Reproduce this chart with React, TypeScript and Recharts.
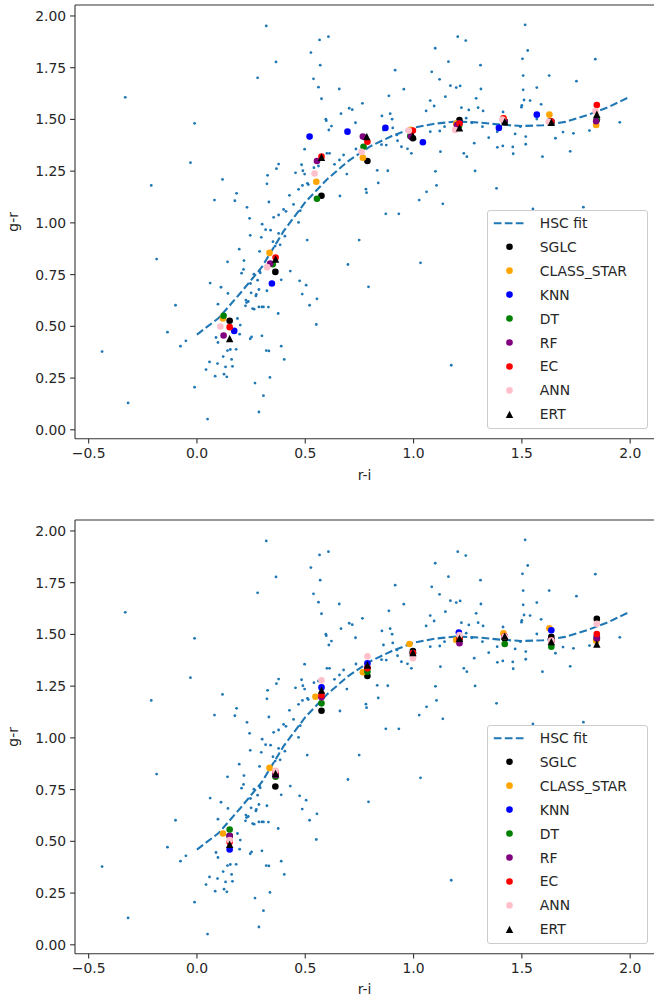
import { ReferenceLine, Scatter, ScatterChart, XAxis, YAxis, Label } from "recharts";

// background sample (r-i, g-r), same in both panels
const SAMPLE: number[][] = [
  [-0.438, 0.378], [-0.318, 0.13], [-0.331, 1.607], [-0.211, 1.181], [-0.186, 0.825], [-0.136, 0.472],
  [-0.099, 0.602], [-0.076, 0.404], [-0.051, 0.43], [-0.03, 1.291], [-0.011, 1.481], [-0.011, 0.206],
  [0.049, 0.052], [0.042, 0.291], [0.058, 0.328], [0.084, 0.259], [0.095, 0.32], [0.088, 0.446],
  [0.097, 0.422], [0.097, 0.607], [0.061, 0.709], [0.111, 0.689], [0.121, 0.354], [0.125, 0.269],
  [0.138, 0.256], [0.132, 0.304], [0.141, 0.383], [0.143, 0.659], [0.141, 0.812], [0.154, 0.388],
  [0.16, 0.34], [0.164, 0.307], [0.181, 0.389], [0.187, 0.538], [0.197, 0.462], [0.2, 0.506],
  [0.195, 0.873], [0.206, 0.757], [0.217, 0.818], [0.215, 0.775], [0.229, 0.615], [0.224, 0.599],
  [0.226, 0.627], [0.237, 0.62], [0.247, 0.707], [0.25, 0.662], [0.246, 0.94], [0.243, 1.022],
  [0.231, 1.075], [0.252, 0.449], [0.246, 0.44], [0.257, 0.586], [0.264, 0.583], [0.268, 0.226],
  [0.274, 0.654], [0.263, 0.752], [0.272, 0.647], [0.28, 0.723], [0.286, 0.678], [0.289, 0.768],
  [0.289, 0.862], [0.286, 0.594], [0.286, 0.086], [0.292, 0.759], [0.297, 0.93], [0.3, 0.454],
  [0.3, 0.594], [0.307, 0.594], [0.307, 0.165], [0.301, 0.994], [0.317, 0.967], [0.32, 0.383],
  [0.323, 0.672], [0.33, 0.593], [0.332, 0.381], [0.337, 0.253], [0.34, 0.965], [0.351, 0.909],
  [0.354, 1.027], [0.361, 0.888], [0.375, 0.562], [0.377, 0.949], [0.377, 1.038], [0.384, 0.894],
  [0.389, 0.725], [0.389, 0.404], [0.403, 0.34], [0.4, 1.065], [0.411, 1.056], [0.406, 0.936],
  [0.431, 0.767], [0.427, 1.133], [0.446, 1.089], [0.469, 1.002], [0.477, 1.059], [0.474, 0.72],
  [0.486, 0.656], [0.504, 0.699], [0.509, 0.917], [0.52, 0.602], [0.551, 0.509], [0.554, 0.633],
  [0.081, 1.11], [0.118, 1.21], [0.183, 1.143], [0.175, 1.107], [0.28, 1.701], [0.32, 1.952],
  [0.365, 1.778], [0.323, 1.189], [0.326, 1.23], [0.332, 1.101], [0.367, 1.262], [0.377, 1.284],
  [0.455, 1.242], [0.483, 1.281], [0.489, 1.252], [0.497, 1.236], [0.497, 1.356], [0.487, 1.181],
  [0.469, 1.162], [0.51, 1.191], [0.514, 1.185], [0.526, 1.823], [0.538, 1.696], [0.54, 1.267],
  [0.561, 1.275], [0.561, 1.656], [0.566, 1.884], [0.569, 1.762], [0.575, 1.6], [0.597, 1.494],
  [0.609, 1.449], [0.607, 1.9], [0.612, 1.336], [0.6, 1.336], [0.595, 1.501], [0.621, 1.468],
  [0.635, 1.283], [0.658, 1.304], [0.677, 1.328], [0.657, 1.647], [0.665, 1.528], [0.66, 1.13],
  [0.692, 1.236], [0.697, 0.799], [0.703, 1.554], [0.717, 1.547], [0.732, 1.484], [0.734, 1.357],
  [0.749, 0.917], [0.764, 1.578], [0.78, 1.163], [0.783, 1.146], [0.792, 0.691], [0.832, 1.254],
  [0.837, 1.193], [0.852, 1.378], [0.854, 1.517], [0.861, 1.449], [0.872, 1.044], [0.874, 1.376],
  [0.881, 1.252], [0.886, 1.614], [0.892, 1.528], [0.901, 1.501], [0.904, 1.459], [0.915, 1.738],
  [0.923, 1.425], [0.926, 1.397], [0.932, 1.044], [0.944, 1.368], [0.955, 1.646], [0.972, 1.358],
  [0.99, 1.336], [1.026, 1.11], [1.032, 0.807], [1.058, 1.541], [1.06, 1.15], [1.077, 1.591],
  [1.077, 1.441], [1.084, 1.73], [1.095, 1.565], [1.101, 1.249], [1.1, 1.844], [1.106, 1.181],
  [1.12, 1.694], [1.121, 1.444], [1.124, 1.344], [1.135, 1.092], [1.143, 1.465], [1.147, 1.61],
  [1.161, 1.779], [1.17, 1.663], [1.174, 0.312], [1.197, 1.654], [1.204, 1.9], [1.215, 1.662],
  [1.221, 1.557], [1.232, 1.336], [1.241, 1.881], [1.243, 1.506], [1.246, 1.32], [1.255, 1.546],
  [1.269, 1.484], [1.28, 1.385], [1.284, 1.251], [1.289, 1.602], [1.298, 1.557], [1.309, 1.762],
  [1.311, 1.647], [1.318, 1.465], [1.321, 1.541], [1.347, 1.412], [1.383, 1.167], [1.386, 1.441],
  [1.387, 1.365], [1.412, 1.372], [1.413, 1.536], [1.458, 1.367], [1.46, 1.334], [1.469, 1.43],
  [1.493, 1.465], [1.498, 1.559], [1.5, 1.568], [1.503, 1.793], [1.506, 1.712], [1.506, 1.643],
  [1.51, 1.594], [1.515, 1.957], [1.518, 1.417], [1.518, 1.38], [1.527, 1.833], [1.538, 1.591],
  [1.551, 1.067], [1.569, 1.654], [1.569, 1.502], [1.589, 1.573], [1.595, 1.32], [1.626, 1.712],
  [1.655, 1.409], [1.69, 1.439], [1.723, 1.346], [1.738, 1.433], [1.752, 1.685], [1.784, 1.076],
  [1.812, 1.446], [1.839, 1.791], [1.952, 1.486],
];

// HSC fit curve
const FIT_X = [0, 0.1, 0.2, 0.3, 0.4, 0.5, 0.6, 0.7, 0.8, 0.9, 1.0, 1.1, 1.2, 1.3, 1.4, 1.5, 1.6, 1.7, 1.8, 1.9, 1.99];
const FIT_Y = [0.46, 0.54, 0.66, 0.787, 0.96, 1.1, 1.21, 1.3, 1.37, 1.42, 1.46, 1.48, 1.49, 1.485, 1.475, 1.468, 1.472, 1.488, 1.52, 1.56, 1.605];

// top panel classifier means
const TOP_SGLC = [[0.151, 0.527], [0.362, 0.763], [0.575, 1.131], [0.787, 1.299], [0.997, 1.409], [1.212, 1.497], [1.421, 1.49], [1.636, 1.49], [1.846, 1.5]];
const TOP_CLASS_STAR = [[0.12, 0.538], [0.335, 0.855], [0.551, 1.199], [0.766, 1.315], [0.985, 1.45], [1.197, 1.48], [1.415, 1.505], [1.627, 1.523], [1.843, 1.473]];
const TOP_KNN = [[0.172, 0.478], [0.346, 0.707], [0.52, 1.417], [0.695, 1.441], [0.87, 1.459], [1.043, 1.39], [1.212, 1.481], [1.394, 1.459], [1.569, 1.523]];
const TOP_DT = [[0.123, 0.551], [0.35, 0.8], [0.554, 1.117], [0.769, 1.368], [0.985, 1.42], [1.21, 1.47], [1.42, 1.49], [1.63, 1.49], [1.846, 1.5]];
const TOP_RF = [[0.123, 0.456], [0.338, 0.804], [0.554, 1.299], [0.766, 1.417], [0.988, 1.417], [1.2, 1.473], [1.42, 1.49], [1.63, 1.49], [1.843, 1.491]];
const TOP_EC = [[0.151, 0.496], [0.363, 0.833], [0.575, 1.32], [0.787, 1.392], [0.997, 1.446], [1.212, 1.48], [1.415, 1.506], [1.636, 1.49], [1.846, 1.57]];
const TOP_ANN = [[0.108, 0.499], [0.324, 0.786], [0.543, 1.239], [0.76, 1.343], [0.978, 1.446], [1.192, 1.449], [1.41, 1.5], [1.624, 1.489], [1.84, 1.54]];
const TOP_ERT = [[0.151, 0.441], [0.363, 0.825], [0.575, 1.317], [0.784, 1.417], [0.997, 1.42], [1.212, 1.46], [1.421, 1.489], [1.636, 1.486], [1.846, 1.525]];

// bottom panel classifier means
const BOT_SGLC = [[0.151, 0.527], [0.362, 0.765], [0.575, 1.131], [0.787, 1.299], [0.997, 1.42], [1.212, 1.48], [1.421, 1.48], [1.636, 1.489], [1.846, 1.575]];
const BOT_CLASS_STAR = [[0.12, 0.538], [0.335, 0.855], [0.547, 1.199], [0.766, 1.317], [0.981, 1.454], [1.197, 1.473], [1.415, 1.505], [1.627, 1.53], [1.843, 1.47]];
const BOT_KNN = [[0.151, 0.461], [0.363, 0.82], [0.575, 1.244], [0.787, 1.36], [0.997, 1.41], [1.209, 1.509], [1.421, 1.49], [1.636, 1.52], [1.846, 1.49]];
const BOT_DT = [[0.151, 0.557], [0.363, 0.812], [0.575, 1.167], [0.787, 1.32], [0.997, 1.41], [1.212, 1.48], [1.421, 1.454], [1.636, 1.441], [1.846, 1.48]];
const BOT_RF = [[0.151, 0.526], [0.363, 0.82], [0.575, 1.196], [0.787, 1.34], [0.997, 1.41], [1.212, 1.457], [1.421, 1.49], [1.636, 1.47], [1.846, 1.48]];
const BOT_EC = [[0.151, 0.497], [0.363, 0.835], [0.575, 1.207], [0.787, 1.336], [0.997, 1.41], [1.212, 1.48], [1.421, 1.49], [1.636, 1.47], [1.846, 1.502]];
const BOT_ANN = [[0.151, 0.506], [0.363, 0.841], [0.575, 1.278], [0.787, 1.394], [0.997, 1.385], [1.212, 1.497], [1.421, 1.49], [1.636, 1.47], [1.846, 1.551]];
const BOT_ERT = [[0.151, 0.486], [0.363, 0.828], [0.575, 1.231], [0.787, 1.352], [0.997, 1.412], [1.212, 1.481], [1.421, 1.492], [1.636, 1.465], [1.846, 1.454]];

const MODELS = ["SGLC", "CLASS_STAR", "KNN", "DT", "RF", "EC", "ANN", "ERT"];
const COLORS = ["black", "orange", "blue", "green", "purple", "red", "pink", "black"];
const X_TICKS = [-0.5, 0, 0.5, 1, 1.5, 2];
const Y_TICKS = [0, 0.25, 0.5, 0.75, 1, 1.25, 1.5, 1.75, 2];

const TOP = [TOP_SGLC, TOP_CLASS_STAR, TOP_KNN, TOP_DT, TOP_RF, TOP_EC, TOP_ANN, TOP_ERT];
const BOT = [BOT_SGLC, BOT_CLASS_STAR, BOT_KNN, BOT_DT, BOT_RF, BOT_EC, BOT_ANN, BOT_ERT];

const FONT = "'DejaVu Sans', sans-serif";
const BLUE = "#1f77b4";
const X_DOMAIN: [number, number] = [-0.563, 2.11];
const Y_DOMAIN: [number, number] = [-0.043, 2.053];

const toPts = (rows: number[][]) => rows.map(([x, y]) => ({ x, y }));
const sample = toPts(SAMPLE);
const fit = FIT_X.map((x, i) => ({ x, y: FIT_Y[i] }));
const minus = (s: string) => s.replace("-", "\u2212");

const dot = (fill: string, r: number) => (p: any) => <circle cx={p.cx} cy={p.cy} r={r} fill={fill} />;
const tri = (p: any) => {
  const s = 3.7;
  return <polygon points={`${p.cx},${p.cy - s} ${p.cx - s},${p.cy + s} ${p.cx + s},${p.cy + s}`} fill="black" />;
};

function LegendBox() {
  const row = (i: number) => 36.7 + i * 23.95;
  return (
    <div
      style={{
        position: "absolute", left: 486.5, top: 210, width: 161, height: 219,
        border: "1px solid #cccccc", borderRadius: 3, background: "rgba(255,255,255,0.8)",
        boxSizing: "border-box", fontFamily: FONT, fontSize: 13.9, color: "#262626",
      }}
    >
      <svg width={161} height={219} style={{ position: "absolute", left: -1, top: -1 }}>
        <line x1={6.8} x2={38.5} y1={13.3} y2={13.3} stroke={BLUE} strokeWidth={2.1} strokeDasharray="7.7 3.3" />
        <text x={52.8} y={13.3} dominantBaseline="central" fontSize={13.9} fill="#262626" fontFamily={FONT}>HSC fit</text>
        {MODELS.map((m, i) => (
          <g key={m}>
            {m === "ERT" ? (
              tri({ cx: 22.5, cy: row(i) })
            ) : (
              <circle cx={22.5} cy={row(i)} r={3.3} fill={COLORS[i]} />
            )}
            <text x={52.8} y={row(i)} dominantBaseline="central" fontSize={13.9} fill="#262626" fontFamily={FONT}>{m}</text>
          </g>
        ))}
      </svg>
    </div>
  );
}

function Panel({ groups, height, labelOffset }: { groups: number[][][]; height: number; labelOffset: number }) {
  const axisH = height - 5 - 433.7;
  return (
    <div style={{ position: "relative", width: 654, height }}>
      <ScatterChart width={654} height={height} margin={{ top: 5, right: 0, bottom: 0, left: 0 }}>
        <XAxis
          type="number" dataKey="x" domain={X_DOMAIN} ticks={X_TICKS} allowDataOverflow
          height={axisH} tickSize={4.9} stroke="#333" strokeWidth={1.1}
          tick={{ fontSize: 13.9, fill: "#262626", fontFamily: FONT, dy: 3 }}
          tickFormatter={(v: number) => minus(v.toFixed(1))}
        >
          <Label value="r-i" position="insideTop" offset={labelOffset} style={{ fontSize: 13.9, fill: "#262626", fontFamily: FONT }} />
        </XAxis>
        <YAxis
          type="number" dataKey="y" domain={Y_DOMAIN} ticks={Y_TICKS} allowDataOverflow
          width={75} tickSize={4.9} stroke="#333" strokeWidth={1.1}
          tick={{ fontSize: 13.9, fill: "#262626", fontFamily: FONT, dx: -2 }}
          tickFormatter={(v: number) => v.toFixed(2)}
        >
          <Label
            content={(p: any) => {
              const cy = p.viewBox.y + p.viewBox.height / 2;
              return (
                <text x={13} y={cy} transform={`rotate(-90 13 ${cy})`} textAnchor="middle" dominantBaseline="central"
                  fontSize={13.9} fill="#262626" fontFamily={FONT}>g-r</text>
              );
            }}
          />
        </YAxis>
        <ReferenceLine y={Y_DOMAIN[1]} stroke="#333" strokeWidth={1.1} />
        <Scatter data={sample} shape={dot(BLUE, 1.4)} isAnimationActive={false} />
        <Scatter
          data={fit} shape={() => <g />} isAnimationActive={false}
          line={{ stroke: BLUE, strokeWidth: 2.1, strokeDasharray: "7.7 3.3" }}
        />
        {groups.map((g, i) => (
          <Scatter
            key={MODELS[i]} data={toPts(g)} isAnimationActive={false}
            shape={MODELS[i] === "ERT" ? tri : dot(COLORS[i], 3.3)}
          />
        ))}
      </ScatterChart>
      <LegendBox />
    </div>
  );
}

export default function App() {
  return (
    <div style={{ width: 654, height: 1003, background: "white", overflow: "hidden" }}>
      <style>{"body{margin:0;overflow:hidden}"}</style>
      <Panel groups={TOP} height={515} labelOffset={31} />
      <Panel groups={BOT} height={488} labelOffset={30} />
    </div>
  );
}
